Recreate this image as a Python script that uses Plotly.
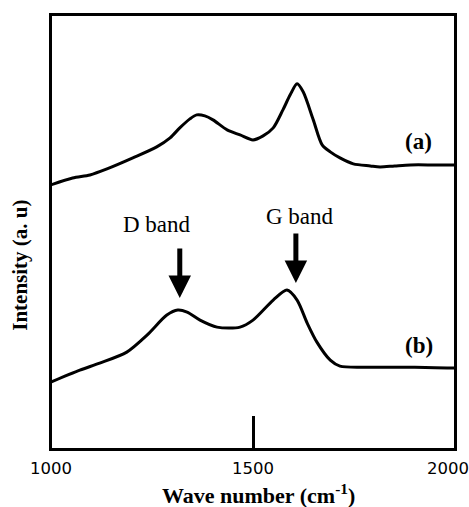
import plotly.graph_objects as go

# Curve (a)
xa = [1000, 1054, 1097, 1139, 1203, 1262, 1295, 1319, 1344, 1361, 1381, 1401, 1436, 1468, 1500, 1525, 1550, 1574, 1592, 1609, 1624, 1649, 1671, 1691, 1715, 1748, 1790, 1814, 1850, 1889, 1950, 2000]
ya = [264, 271, 274, 280, 291, 302, 311, 321, 330, 334, 333, 329, 319, 314, 309, 313, 321, 339, 354, 365, 357, 329, 304, 297, 291, 285, 283, 282, 283, 284, 284, 284]
# Curve (b)
xb = [1000, 1072, 1121, 1188, 1238, 1287, 1314, 1337, 1369, 1411, 1468, 1500, 1550, 1584, 1609, 1634, 1658, 1691, 1715, 1790, 1900, 2000]
yb = [67, 79, 86, 97, 114, 134, 139, 137, 129, 122, 122, 129, 149, 159, 149, 126, 107, 89, 83, 82, 82, 81]

tick_vals = [1000, 1500, 2000]
tick_text = ["1000", "1500", "2000"]

X_RANGE = [1003.1, 1996.9]
serif = "Liberation Serif"
fig = go.Figure()
fig.add_trace(go.Scatter(x=xa, y=ya, mode="lines", line=dict(color="black", width=3, shape="spline", smoothing=0.8), showlegend=False))
fig.add_trace(go.Scatter(x=xb, y=yb, mode="lines", line=dict(color="black", width=3, shape="spline", smoothing=0.8), showlegend=False))

ann = []
# tick labels (positioned in paper units computed from the axis range)
for v, t in zip(tick_vals, tick_text):
    anchor = "center"
    xs = 0
    if v == tick_vals[-1]:
        anchor = "right"
        xs = 16
    px = (v - X_RANGE[0]) / (X_RANGE[1] - X_RANGE[0])
    ann.append(dict(x=px, y=0, xref="paper", yref="paper", text=t, showarrow=False,
                    xanchor=anchor, yanchor="middle", yshift=-20, xshift=xs,
                    font=dict(family="DejaVu Sans", size=16.5, color="black")))
# band labels
ann.append(dict(x=1262, y=224, text="D band", showarrow=False, font=dict(family=serif, size=23, color="black")))
ann.append(dict(x=1616, y=232, text="G band", showarrow=False, font=dict(family=serif, size=23, color="black")))
ann.append(dict(x=1908, y=307, text="<b>(a)</b>", showarrow=False, font=dict(family=serif, size=23, color="black")))
ann.append(dict(x=1911, y=104, text="<b>(b)</b>", showarrow=False, font=dict(family=serif, size=23, color="black")))
# arrows
ann.append(dict(x=1319, y=151, text="", showarrow=True, ax=0, ay=-51, arrowhead=2, arrowsize=0.9, arrowwidth=5, arrowcolor="black"))
ann.append(dict(x=1606, y=166, text="", showarrow=True, ax=0, ay=-51, arrowhead=2, arrowsize=0.9, arrowwidth=5, arrowcolor="black"))
# axis titles
ann.append(dict(x=0.5125, y=0, xref="paper", yref="paper", yshift=-46, text="<b>Wave number (cm<sup>-1</sup>)</b>",
                showarrow=False, xanchor="center", yanchor="middle", font=dict(family=serif, size=22, color="black")))
ann.append(dict(x=-0.0803, y=0.4235, xref="paper", yref="paper", text="<b>Intensity (a. u)</b>", textangle=-90,
                showarrow=False, xanchor="center", yanchor="middle", font=dict(family=serif, size=21, color="black")))

fig.update_layout(
    width=469, height=507,
    margin=dict(l=52.25, r=15.25, t=16.25, b=59.25),
    paper_bgcolor="white", plot_bgcolor="white",
    annotations=ann,
    xaxis=dict(range=X_RANGE, showgrid=False, zeroline=False, showline=True, mirror=True,
               linecolor="black", linewidth=2.5, tickvals=[1500], ticks="inside", ticklen=32,
               tickwidth=3, tickcolor="black", showticklabels=False),
    yaxis=dict(range=[1.25, 432.75], showgrid=False, zeroline=False, showline=True, mirror=True,
               linecolor="black", linewidth=2.5, showticklabels=False, ticks=""),
)
fig.write_html("out.html")
